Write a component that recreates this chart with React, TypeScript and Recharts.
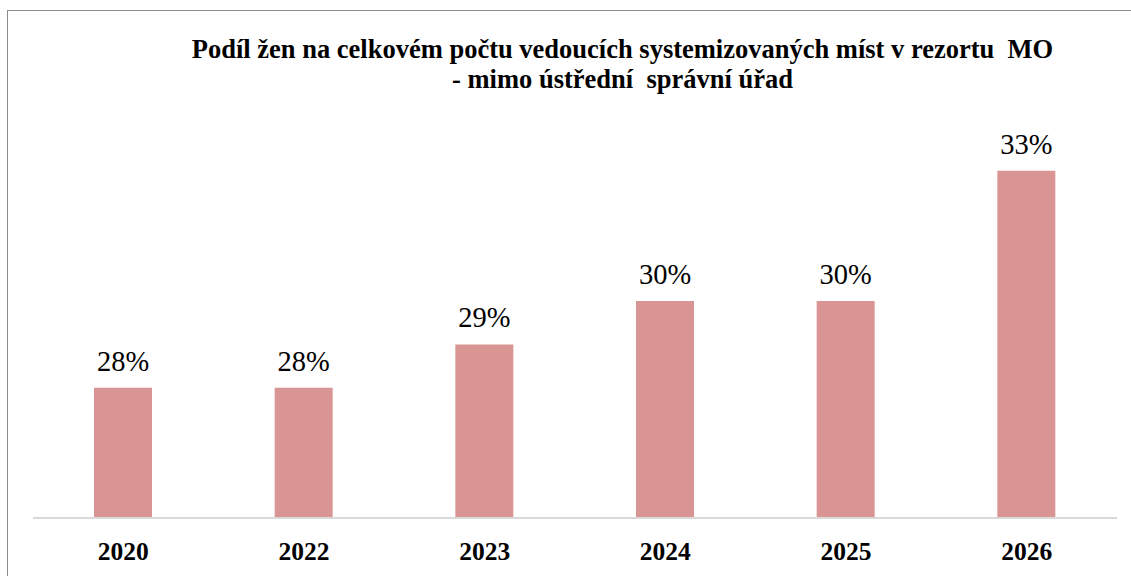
import { BarChart, Bar, XAxis, YAxis, LabelList } from "recharts";

const years = ["2020", "2022", "2023", "2024", "2025", "2026"];
const shares = [28, 28, 29, 30, 30, 33];

const TITLE_1 = "Podíl žen na celkovém počtu vedoucích systemizovaných míst v rezortu  MO";
const TITLE_2 = "- mimo ústřední  správní úřad";

const FONT = '"Liberation Serif", "Times New Roman", serif';

const data = years.map((y, i) => ({ year: y, share: shares[i] }));

export default function App() {
  return (
    <div
      style={{
        position: "absolute",
        left: 0,
        top: 0,
        width: 1131,
        height: 576,
        overflow: "hidden",
        background: "#fff",
        fontFamily: FONT,
      }}
    >
      <div
        style={{
          position: "absolute",
          left: 7,
          top: 10,
          width: 1200,
          height: 700,
          border: "1.5px solid #8a8a8a",
        }}
      />
      <div
        style={{
          position: "absolute",
          left: 0,
          top: 34,
          width: 1245,
          textAlign: "center",
          fontSize: 26.5,
          lineHeight: "30px",
          fontWeight: "bold",
          whiteSpace: "pre",
          color: "#000",
        }}
      >
        {TITLE_1}
        {"\n"}
        {TITLE_2}
      </div>
      <div style={{ position: "absolute", left: 0, top: 0 }}>
        <BarChart
          width={1131}
          height={576}
          data={data}
          margin={{ top: 84, right: 14, bottom: 0, left: 33 }}
        >
          <YAxis hide domain={[25, 35]} />
          <XAxis
            dataKey="year"
            axisLine={{ stroke: "#d9d9d9", strokeWidth: 2 }}
            tickLine={false}
            tickSize={0}
            tickMargin={24}
            height={58}
            tick={{ fontSize: 25.5, fontWeight: "bold", fill: "#000", fontFamily: FONT }}
          />
          <Bar dataKey="share" fill="#D99594" barSize={58} isAnimationActive={false}>
            <LabelList
              dataKey="share"
              position="top"
              offset={17}
              formatter={(v: number) => `${v}%`}
              style={{ fontSize: 28.5, fill: "#000", fontFamily: FONT }}
            />
          </Bar>
        </BarChart>
      </div>
    </div>
  );
}
